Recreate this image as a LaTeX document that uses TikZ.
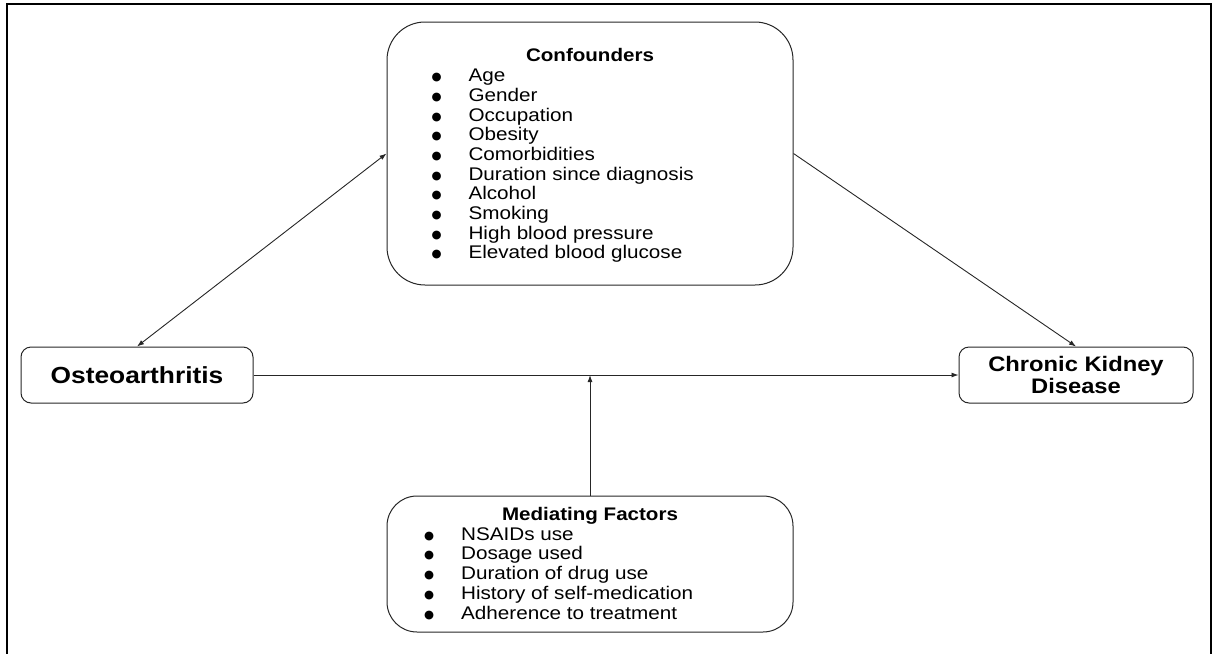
\documentclass[tikz,border=0pt]{standalone}
\usepackage{fontspec}
\setmainfont{Liberation Sans}[FakeStretch=1.13]
\newfontfamily\symfont{DejaVu Sans}
\usepackage{tikz}
\usetikzlibrary{arrows.meta}
\newcommand{\itembullet}{\makebox[37.2pt][l]{\hspace{0.3pt}\raisebox{1pt}{\symfont\fontsize{11.5}{12}\selectfont ●}}}

\begin{document}
\begin{tikzpicture}[x=1pt,y=1pt,yscale=-1,xscale=1,
  roundbox/.style={draw=black!85,line width=1pt,inner sep=0pt},
  boxtitle/.style={anchor=base,inner sep=0pt,font=\bfseries\fontsize{18.2}{20}\selectfont},
  itemtext/.style={anchor=base west,inner sep=0pt,font=\fontsize{18.3}{19.7}\selectfont},
  link/.style={draw=black!85,line width=0.9pt,-{Latex[length=7pt,width=5pt]}}]
\useasboundingbox (0,0) rectangle (1214,653);

%Frame
\draw [line width=2pt] (7,660) -- (7,4) -- (1211,4) -- (1211,660) ;

%Shape: Rounded Rect [Confounders]
\node [roundbox,rounded corners=38pt,minimum width=406pt,minimum height=263pt] (conf) at (590,153.5) {};
%Shape: Rounded Rect [Mediating]
\node [roundbox,rounded corners=30pt,minimum width=406pt,minimum height=136pt] (med) at (590,564) {};
%Shape: Rounded Rect [Osteoarthritis]
\node [roundbox,rounded corners=10pt,minimum width=232pt,minimum height=56pt,font=\bfseries\fontsize{23.3}{25}\selectfont] (oa) at (137,375) {Osteoarthritis};
%Shape: Rounded Rect [CKD]
\node [roundbox,rounded corners=10pt,minimum width=234pt,minimum height=56pt,align=center,font=\bfseries\fontsize{21}{22.6}\selectfont] (ckd) at (1076,375) {Chronic Kidney\\Disease};

% Text Node
\node [boxtitle] (conftitle) at (590,61.7) {Confounders};
% Text Node
\node [itemtext] (conf1) at (431.1,81.7) {\itembullet Age};
\node [itemtext] (conf2) at (431.1,101.37) {\itembullet Gender};
\node [itemtext] (conf3) at (431.1,121.04) {\itembullet Occupation};
\node [itemtext] (conf4) at (431.1,140.71) {\itembullet Obesity};
\node [itemtext] (conf5) at (431.1,160.38) {\itembullet Comorbidities};
\node [itemtext] (conf6) at (431.1,180.05) {\itembullet Duration since diagnosis};
\node [itemtext] (conf7) at (431.1,199.72) {\itembullet Alcohol};
\node [itemtext] (conf8) at (431.1,219.39) {\itembullet Smoking};
\node [itemtext] (conf9) at (431.1,239.06) {\itembullet High blood pressure};
\node [itemtext] (conf10) at (431.1,258.73) {\itembullet Elevated blood glucose};

% Text Node
\node [boxtitle] (medtitle) at (590,520.7) {Mediating Factors};
% Text Node
\node [itemtext] (med1) at (423.7,540) {\itembullet NSAIDs use};
\node [itemtext] (med2) at (423.7,559.8) {\itembullet Dosage used};
\node [itemtext] (med3) at (423.7,579.6) {\itembullet Duration of drug use};
\node [itemtext] (med4) at (423.7,599.4) {\itembullet History of self-medication};
\node [itemtext] (med5) at (423.7,619.2) {\itembullet Adherence to treatment};

%Arrows
\draw [link,{Latex[length=7pt,width=5pt]}-{Latex[length=7pt,width=5pt]}] (conf.west) -- (oa.north) ;
\draw [link] (conf.east) -- (ckd.north) ;
\draw [link] (oa.east) -- (ckd.west) ;
\draw [link] (med.north) -- (med.north |- oa.east) ;
\end{tikzpicture}
\end{document}
